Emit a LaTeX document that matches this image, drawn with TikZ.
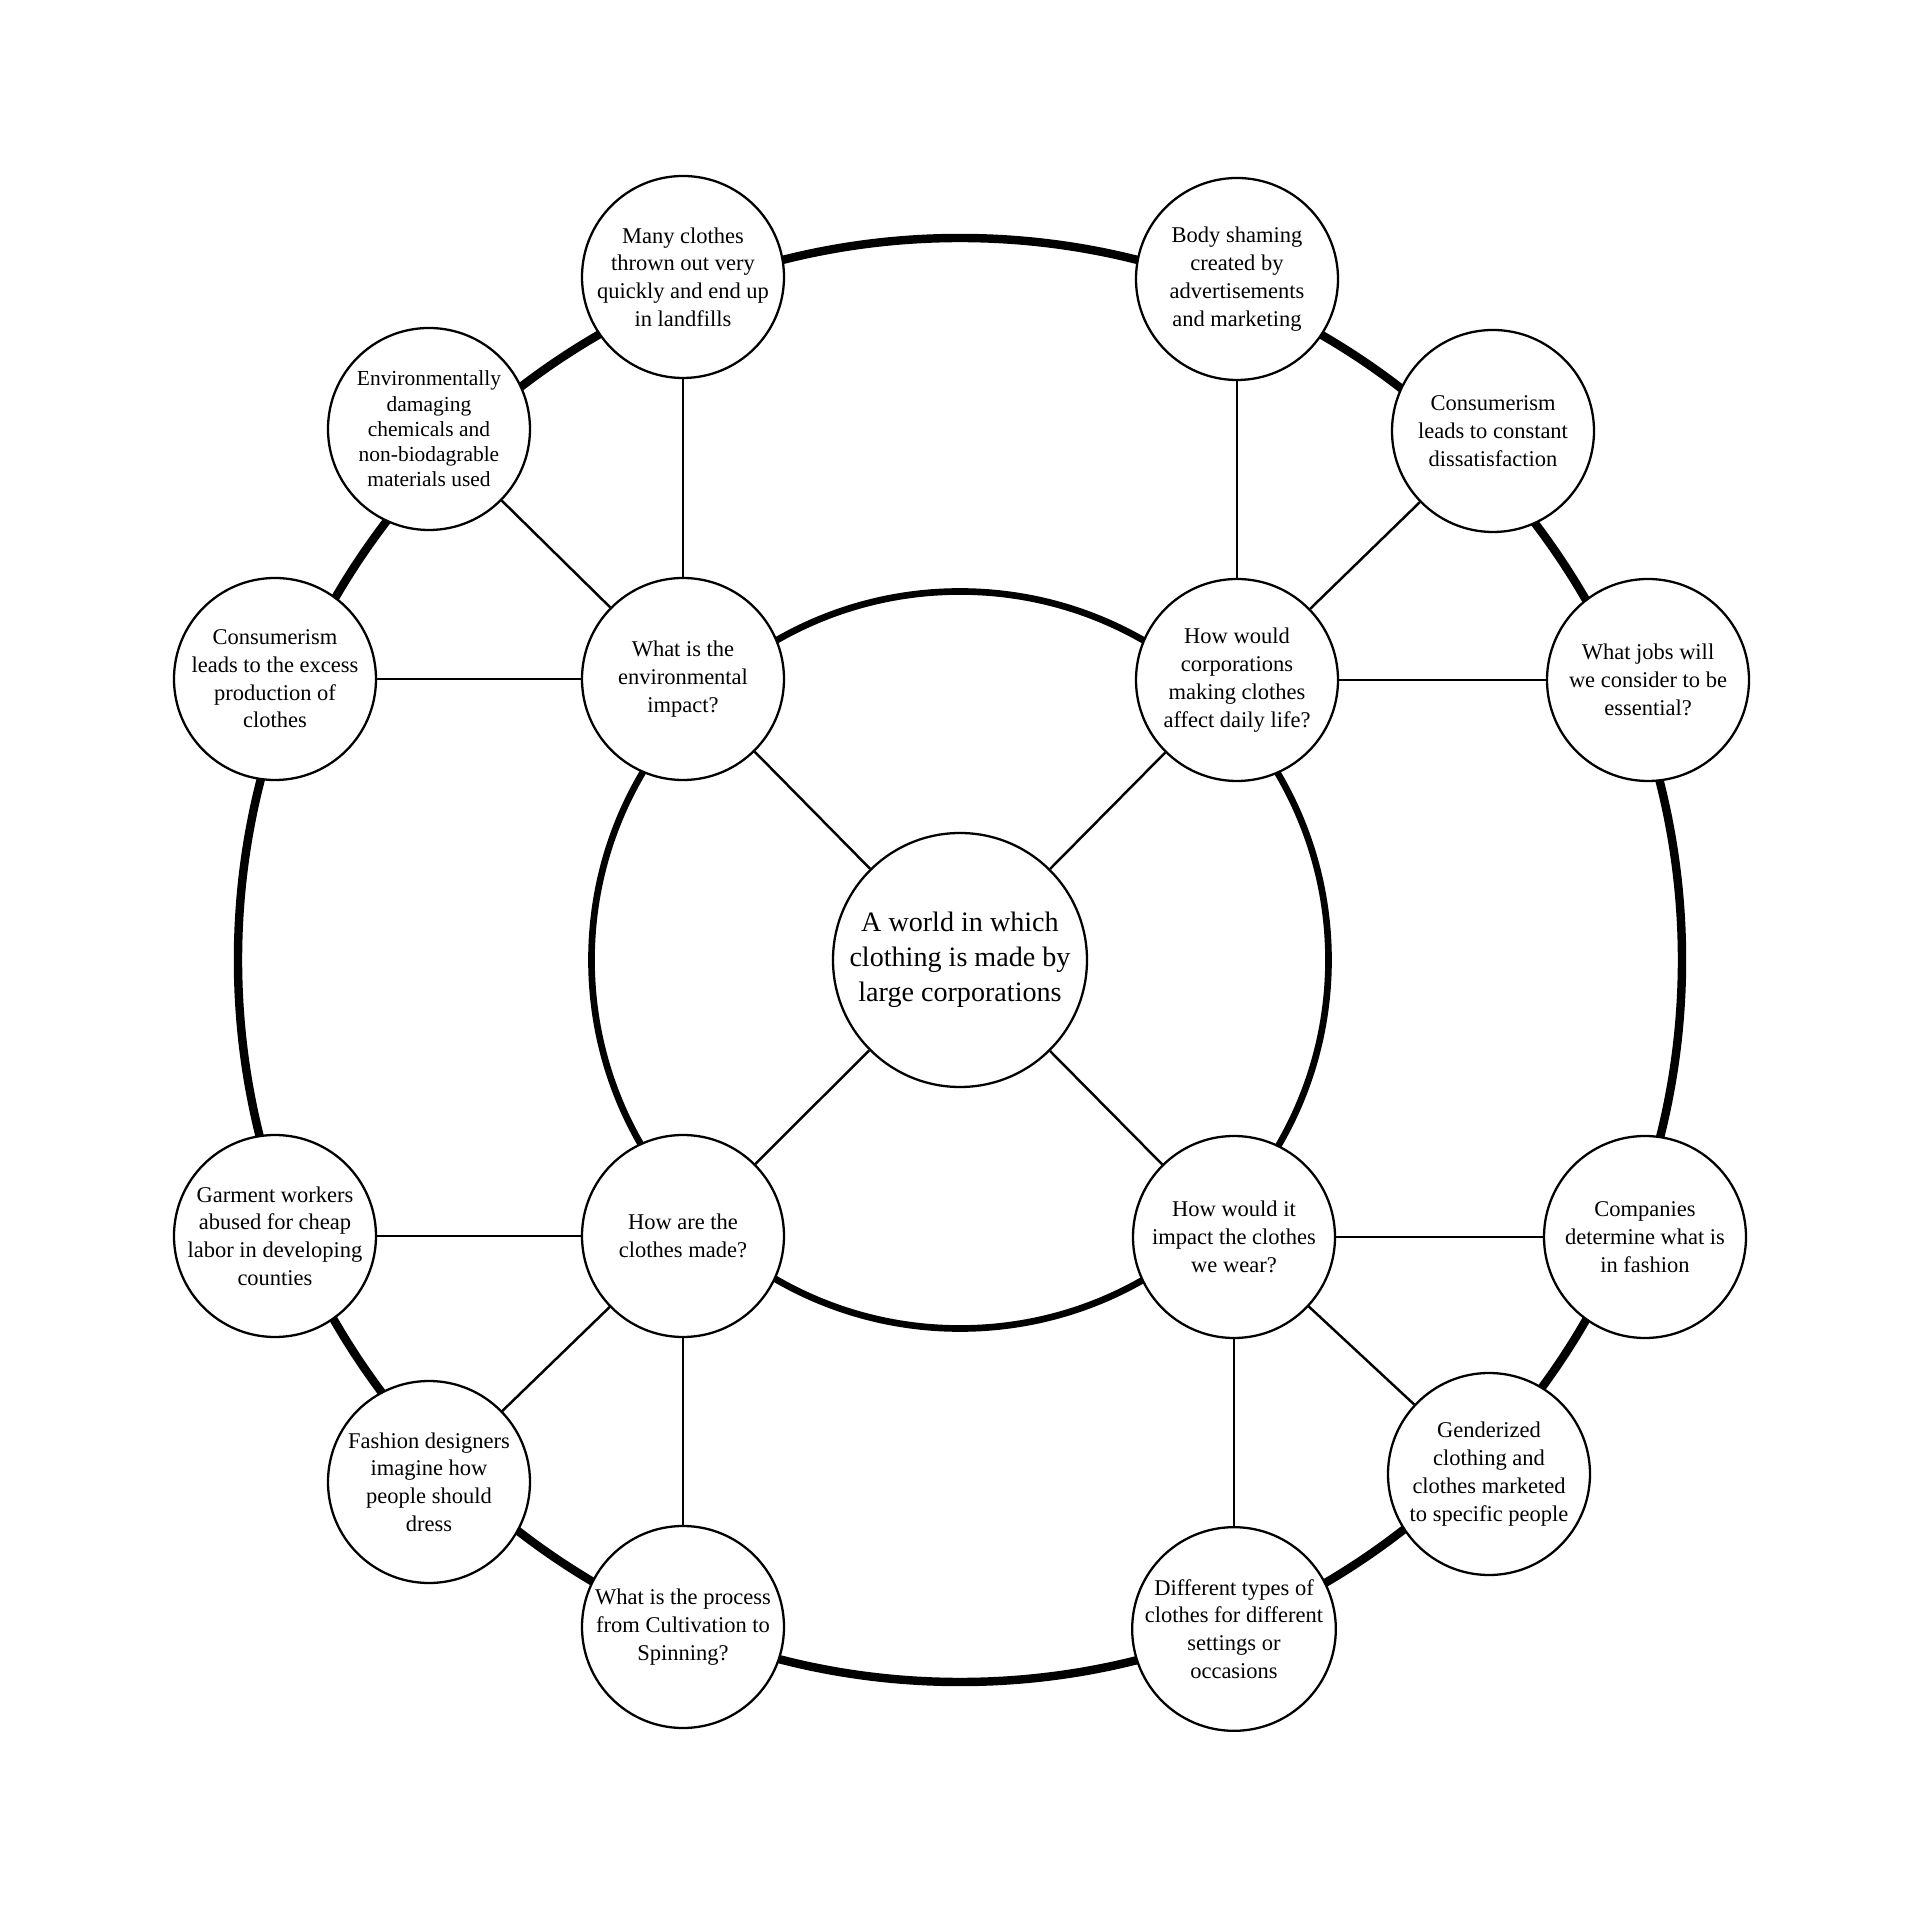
\documentclass[tikz,border=0pt]{standalone}
\usepackage{fontspec}
\setmainfont{Liberation Serif}
\usetikzlibrary{positioning}
\definecolor{Ink}{HTML}{000000}
\tikzset{
 every node/.style={text=Ink},
 ring/.style={draw=Ink},
 link/.style={draw=Ink,line width=.7pt},
 bubble/.style={circle,draw=Ink,line width=.65pt,fill=white,minimum size=2.02cm,inner sep=0pt,align=center,font=\fontsize{6.4}{7.9}\selectfont},
 hub/.style={bubble,minimum size=2.54cm,font=\fontsize{8}{10}\selectfont},
 }

\begin{document}
\begin{tikzpicture}
 \useasboundingbox (-9.6,-9.6) rectangle (9.6,9.6);
 % rings
 \draw[ring,line width=2.4pt] (0,0) circle[radius=7.22];
 \draw[ring,line width=1.9pt] (0,0) circle[radius=3.685];
 % centre and questions
 \node[hub] (world) at (0,0) {A world in which\\clothing is made by\\large corporations};
 \node[bubble] (env) at (-2.77,2.81) {What is the\\environmental\\impact?};
 \node[bubble] (daily) at (2.77,2.80) {How would\\corporations\\making clothes\\affect daily life?};
 \node[bubble] (made) at (-2.77,-2.76) {How are the\\clothes made?};
 \node[bubble] (wear) at (2.74,-2.77) {How would it\\impact the clothes\\we wear?};
 % outer ring
 \node[bubble] (landfill) at (-2.77,6.83) {Many clothes\\thrown out very\\quickly and end up\\in landfills};
 \node[bubble,font=\fontsize{6.1}{7.2}\selectfont] (chem) at (-5.31,5.31) {Environmentally\\damaging\\chemicals and\\non-biodagrable\\materials used};
 \node[bubble] (excess) at (-6.85,2.81) {Consumerism\\leads to the excess\\production of\\clothes};
 \node[bubble] (labor) at (-6.85,-2.76) {Garment workers\\abused for cheap\\labor in developing\\counties};
 \node[bubble] (design) at (-5.31,-5.22) {Fashion designers\\imagine how\\people should\\dress};
 \node[bubble] (process) at (-2.77,-6.67) {What is the process\\from Cultivation to\\Spinning?};
 \node[bubble] (types) at (2.74,-6.69) {Different types of\\clothes for different\\settings or\\occasions};
 \node[bubble] (gender) at (5.29,-5.14) {Genderized\\clothing and\\clothes marketed\\to specific people};
 \node[bubble] (trend) at (6.85,-2.77) {Companies\\determine what is\\in fashion};
 \node[bubble] (jobs) at (6.88,2.80) {What jobs will\\we consider to be\\essential?};
 \node[bubble] (unhappy) at (5.33,5.29) {Consumerism\\leads to constant\\dissatisfaction};
 \node[bubble] (shame) at (2.77,6.81) {Body shaming\\created by\\advertisements\\and marketing};
 % spokes
 \draw[link] (world) -- (env);
 \draw[link] (world) -- (daily);
 \draw[link] (world) -- (made);
 \draw[link] (world) -- (wear);
 \draw[link] (env) -- (landfill);
 \draw[link] (env) -- (chem);
 \draw[link] (env) -- (excess);
 \draw[link] (made) -- (labor);
 \draw[link] (made) -- (design);
 \draw[link] (made) -- (process);
 \draw[link] (wear) -- (types);
 \draw[link] (wear) -- (gender);
 \draw[link] (wear) -- (trend);
 \draw[link] (daily) -- (jobs);
 \draw[link] (daily) -- (unhappy);
 \draw[link] (daily) -- (shame);
\end{tikzpicture}
\end{document}
